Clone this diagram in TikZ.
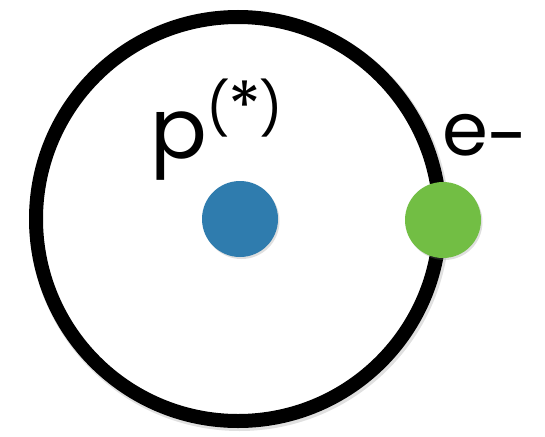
\documentclass[tikz,border=0pt]{standalone}
\usepackage{fontspec}
\setmainfont{Poppins}
\usetikzlibrary{shadows}
\definecolor{protonblue}{RGB}{47,124,174}
\definecolor{electrongreen}{RGB}{114,190,68}
\tikzset{
  orbit/.style={draw=black, line width=14pt},
  particle/.style={circle, minimum size=76pt, inner sep=0pt, draw=none,
    drop shadow={shadow xshift=1.5pt, shadow yshift=-2pt, opacity=0.25}},
  lbl/.style={anchor=base west, inner sep=0pt, outer sep=0pt}
}
\begin{document}
\begin{tikzpicture}[x=1pt,y=-1pt]
  \useasboundingbox (0,0) rectangle (545,436);
  \draw[black, opacity=0.12, line width=16pt] (239.5,221) circle (202);
  \node[circle, minimum size=404pt, inner sep=0pt, orbit, fill=white] (orbit) at (238,219) {};
  \node[particle, fill=protonblue] (proton) at (240,219) {};
  \node[particle, fill=electrongreen] (electron) at (443,220) {};
  \node[lbl] (plabel) at (150,158) {\fontsize{84}{84}\selectfont p\raisebox{31pt}{\fontsize{52}{52}\selectfont(\kern-2pt\raisebox{-3pt}{\scalebox{1.3}{*}}\kern-2pt)}};
  \node[lbl] (elabel) at (442,155) {\fontsize{74}{74}\selectfont e\raisebox{-7pt}{-}};
\end{tikzpicture}
\end{document}
